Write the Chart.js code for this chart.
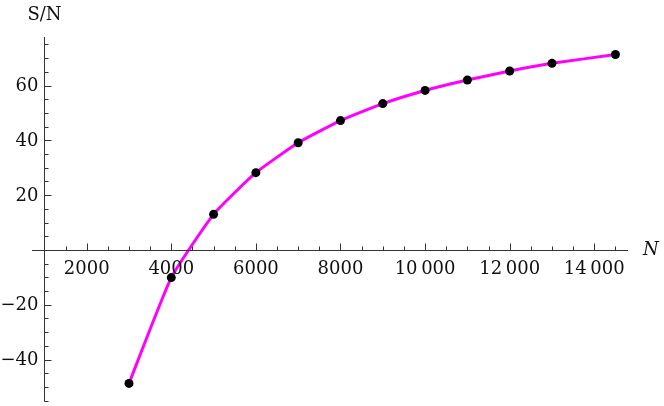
<!DOCTYPE html>
<html>
<head>
<meta charset="utf-8">
<script src="https://cdn.jsdelivr.net/npm/chart.js@4.4.1/dist/chart.umd.min.js"></script>
<style>
  html, body { margin: 0; padding: 0; background: #fff; }
  #wrap { width: 664px; height: 406px; }
</style>
</head>
<body>
<div id="wrap"><canvas id="snChart"></canvas></div>
<script>
// Data
const nValues = [3000, 4000, 5000, 6000, 7000, 8000, 9000, 10000, 11000, 12000, 13000, 14500];
const snValues = [-48.7, -10.1, 13.0, 28.2, 39.1, 47.2, 53.4, 58.2, 62.0, 65.3, 68.1, 71.3];

// Tick labels
const xTicks = [2000, 4000, 6000, 8000, 10000, 12000, 14000];
const yTicks = [-40, -20, 20, 40, 60];

const FONT = '18px "DejaVu Serif", serif';

function fmtX(v) {
    // Mathematica-style digit grouping with a thin space
    const s = String(v);
    return s.length > 4 ? s.slice(0, s.length - 3) + '\u2009' + s.slice(-3) : s;
}
function fmtY(v) {
    return v < 0 ? '\u2212' + Math.abs(v) : String(v);
}

// Draws axes crossing at (1000, 0) with inward ticks, like the original
const axesPlugin = {
    id: 'crossAxes',
    afterDraw(chart) {
        const ctx = chart.ctx;
        const xs = chart.scales.x, ys = chart.scales.y;
        const area = chart.chartArea;
        const x0 = Math.round(xs.getPixelForValue(1000)) + 0.5;
        const y0 = Math.round(ys.getPixelForValue(0)) + 0.5;

        ctx.save();
        ctx.strokeStyle = '#333';
        ctx.lineWidth = 1;

        // axis lines
        ctx.beginPath();
        ctx.moveTo(area.left, y0);
        ctx.lineTo(area.right, y0);
        ctx.moveTo(x0, area.top);
        ctx.lineTo(x0, area.bottom);
        ctx.stroke();

        // x ticks (minor every 500, major every 2000)
        ctx.beginPath();
        for (let v = 1500; v <= 14500; v += 500) {
            const px = Math.round(xs.getPixelForValue(v)) + 0.5;
            const len = v % 2000 === 0 ? 7 : 4;
            ctx.moveTo(px, y0);
            ctx.lineTo(px, y0 - len);
        }
        // y ticks (minor every 5, major every 20)
        for (let v = -55; v <= 75; v += 5) {
            if (v === 0) continue;
            const py = Math.round(ys.getPixelForValue(v)) + 0.5;
            const len = v % 20 === 0 ? 7 : 4;
            ctx.moveTo(x0, py);
            ctx.lineTo(x0 + len, py);
        }
        ctx.stroke();

        // tick labels
        ctx.fillStyle = '#111';
        ctx.font = FONT;
        ctx.textAlign = 'center';
        ctx.textBaseline = 'top';
        xTicks.forEach(v => {
            ctx.fillText(fmtX(v), xs.getPixelForValue(v), y0 + 10);
        });
        ctx.textAlign = 'right';
        ctx.textBaseline = 'middle';
        yTicks.forEach(v => {
            ctx.fillText(fmtY(v), x0 - 6, ys.getPixelForValue(v) + 1);
        });

        // axis titles
        ctx.textAlign = 'center';
        ctx.fillText('S/N', x0, 15);
        ctx.font = 'italic 18px "DejaVu Serif", serif';
        ctx.textAlign = 'left';
        ctx.fillText('N', area.right + 15, y0);
        ctx.restore();
    }
};

const ctx = document.getElementById('snChart').getContext('2d');
new Chart(ctx, {
    type: 'line',
    data: {
        datasets: [{
            label: 'S/N',
            data: nValues.map((n, i) => ({ x: n, y: snValues[i] })),
            borderColor: '#ff00ff',
            borderWidth: 3,
            tension: 0.15,
            pointRadius: 4.5,
            pointBackgroundColor: '#000',
            pointBorderWidth: 0,
            clip: false
        }]
    },
    options: {
        responsive: true,
        maintainAspectRatio: false,
        animation: false,
        layout: { padding: { left: 32, right: 36, top: 37, bottom: 2 } },
        plugins: {
            legend: { display: false },
            tooltip: { enabled: false }
        },
        scales: {
            x: { type: 'linear', min: 707, max: 14797, display: false },
            y: { type: 'linear', min: -55.3, max: 77.7, display: false }
        }
    },
    plugins: [axesPlugin]
});
</script>
</body>
</html>
